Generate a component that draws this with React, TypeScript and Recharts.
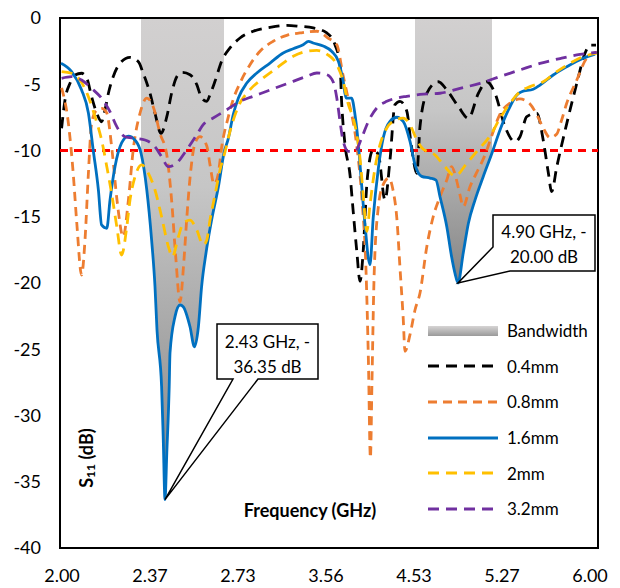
import React from 'react';
import {
  ComposedChart, Line, Area, XAxis, YAxis, ReferenceLine, ReferenceArea,
  ReferenceDot, Legend, Customized,
} from 'recharts';

// ---------- data ----------
const xTickPositions = [0, 22, 44, 66, 88, 110, 132];
const xTickLabels = ['2.00', '2.37', '2.73', '3.56', '4.53', '5.27', '6.00'];
const yTicks = [0, -5, -10, -15, -20, -25, -30, -35, -40];
const thresholdDb = -10;

// [x position (category index), S11 dB]
const s04mm = [
  [-0.1, -8.32], [0.75, -6.19], [2.0, -4.93], [3.25, -4.3], [4.9, -4.17], [6.2, -4.55], [7.4, -5.94],
  [8.7, -7.19], [9.9, -7.83], [10.75, -6.94], [11.6, -5.68], [12.8, -4.43], [14.5, -3.42], [17.0, -2.97],
  [19.1, -3.3], [20.3, -4.17], [22.0, -5.68], [23.25, -7.19], [24.75, -8.7], [26.2, -7.45], [27.4, -5.68],
  [28.7, -4.43], [30.0, -4.11], [32.0, -4.28], [33.7, -5.03], [34.9, -6.04], [36.2, -6.29], [37.0, -5.79],
  [38.25, -4.78], [39.9, -3.27], [42.0, -2.26], [44.5, -1.51], [47.8, -1.0], [52.0, -0.7], [56.2, -0.55],
  [59.5, -0.63], [62.8, -0.75], [66.2, -1.13], [68.25, -2.02], [69.5, -3.52], [69.9, -6.29], [70.75, -9.56],
  [72.0, -11.83], [72.8, -14.59], [73.7, -17.61], [74.5, -19.87], [75.3, -17.61], [76.2, -12.58], [77.0, -10.57],
  [77.8, -9.94], [79.1, -10.32], [80.75, -13.74], [82.0, -10.72], [83.25, -6.54], [84.5, -6.29], [86.2, -7.04],
  [87.25, -9.43], [88.7, -11.72], [89.5, -8.2], [91.2, -5.68], [94.1, -4.81], [96.2, -5.43], [99.1, -6.69],
  [101.6, -7.57], [104.1, -5.68], [106.2, -4.81], [108.25, -5.68], [110.75, -8.2], [113.25, -9.34],
  [114.5, -8.96], [116.2, -7.45], [118.7, -7.19], [120.3, -9.21], [121.6, -11.72], [122.4, -13.11],
  [123.7, -11.22], [126.2, -7.95], [128.7, -4.93], [130.75, -2.66], [132.0, -2.04], [133.5, -2.04],
];

const s08mm = [
  [-0.1, -5.28], [1.6, -7.95], [2.8, -11.72], [3.7, -15.49], [4.9, -19.4], [5.75, -16.75], [6.6, -11.72],
  [7.4, -7.95], [8.7, -6.94], [9.9, -6.82], [11.2, -7.17], [12.5, -9.96], [13.75, -13.74], [15.3, -16.51],
  [16.6, -13.74], [17.8, -9.96], [19.5, -7.19], [21.2, -6.04], [22.8, -6.69], [24.5, -8.7], [26.2, -10.34],
  [27.4, -13.74], [28.4, -17.89], [29.5, -21.41], [30.4, -18.64], [31.2, -15.09], [32.0, -12.08],
  [33.25, -9.46], [34.5, -8.96], [36.2, -9.66], [37.0, -11.07], [38.0, -12.53], [39.0, -11.85], [40.0, -9.58],
  [41.5, -7.55], [42.75, -6.19], [44.5, -4.91], [47.0, -3.52], [49.5, -2.51], [52.8, -1.76], [56.2, -1.31],
  [59.5, -1.13], [63.7, -1.0], [66.5, -1.51], [68.7, -2.02], [70.25, -4.3], [71.5, -6.04], [73.5, -9.21],
  [75.0, -13.74], [76.0, -19.02], [76.6, -25.81], [77.1, -33.21], [77.5, -27.32], [78.0, -19.77],
  [79.0, -14.49], [80.25, -12.6], [81.75, -12.08], [82.75, -12.98], [83.7, -15.09], [84.5, -18.87],
  [85.3, -22.64], [85.75, -25.15], [87.0, -23.9], [88.25, -22.04], [89.5, -20.75], [91.2, -17.26],
  [92.8, -15.0], [94.5, -13.49], [96.2, -12.23], [97.4, -11.22], [98.5, -12.08], [99.5, -13.36],
  [100.3, -14.24], [102.0, -12.73], [103.75, -11.62], [105.75, -10.34], [107.5, -8.83], [109.5, -7.25],
  [112.0, -6.42], [114.5, -6.11], [117.0, -6.49], [118.75, -7.32], [120.3, -8.3], [122.0, -9.02],
  [123.7, -8.75], [124.75, -7.85], [126.2, -6.42], [128.7, -4.68], [131.2, -3.02], [133.7, -2.57],
];

const s16mm = [
  [-0.25, -3.42], [2.4, -4.05], [4.9, -5.43], [6.6, -7.17], [7.8, -9.96], [9.1, -12.98], [9.9, -15.62],
  [11.2, -15.87], [12.0, -13.74], [13.25, -11.22], [14.9, -9.43], [16.6, -8.91], [18.25, -9.21],
  [19.75, -10.19], [21.2, -12.98], [22.4, -16.75], [23.25, -20.28], [23.75, -23.55], [24.9, -27.83],
  [25.3, -31.6], [25.75, -36.35], [26.2, -32.83], [26.8, -27.83], [27.0, -25.28], [28.25, -22.54],
  [29.5, -21.66], [30.3, -21.79], [32.0, -23.3], [33.1, -24.81], [34.1, -23.3], [34.9, -20.28],
  [36.0, -17.74], [37.4, -15.25], [39.1, -12.73], [40.5, -10.19], [41.6, -9.06], [42.8, -7.3], [44.1, -6.04],
  [46.2, -4.91], [48.7, -4.15], [52.0, -3.4], [55.3, -2.64], [57.8, -2.32], [60.3, -2.02], [61.6, -1.76],
  [62.8, -1.89], [65.3, -2.11], [67.4, -2.51], [69.1, -3.27], [70.3, -4.78], [71.0, -6.04], [72.4, -6.04],
  [73.25, -7.3], [74.1, -9.56], [74.9, -12.58], [75.75, -15.6], [77.0, -18.62], [77.8, -15.09],
  [79.1, -11.32], [80.3, -9.06], [82.0, -7.8], [83.7, -7.49], [85.3, -7.8], [87.0, -9.31], [88.25, -11.07],
  [89.9, -11.95], [92.0, -12.08], [93.5, -12.23], [94.5, -13.49], [96.2, -15.75], [97.4, -18.02],
  [98.25, -19.27], [99.0, -20.0], [100.3, -17.76], [101.6, -15.49], [103.25, -13.74], [105.3, -11.98],
  [107.5, -10.19], [109.5, -8.45], [111.6, -6.94], [113.7, -5.81], [114.9, -5.56], [117.8, -5.38],
  [119.5, -5.06], [122.8, -4.3], [126.2, -3.68], [130.3, -3.04], [133.25, -2.72],
];

const s2mm = [
  [-0.1, -4.05], [2.4, -4.17], [4.5, -4.68], [6.6, -5.94], [8.25, -7.45], [9.9, -9.21], [11.2, -11.22],
  [12.4, -13.23], [13.7, -15.75], [14.9, -17.89], [16.2, -15.75], [17.0, -13.74], [18.25, -11.98],
  [19.9, -11.09], [21.6, -11.72], [23.25, -12.98], [24.9, -15.0], [26.6, -17.26], [27.6, -18.02],
  [29.1, -16.51], [30.3, -15.49], [32.0, -15.25], [33.7, -16.0], [35.3, -17.13], [36.2, -16.75],
  [37.0, -15.25], [38.25, -13.36], [39.5, -11.47], [40.75, -10.11], [42.0, -8.55], [44.1, -6.66],
  [47.0, -5.41], [50.3, -4.53], [53.7, -3.77], [57.8, -2.89], [61.2, -2.51], [63.7, -2.44], [66.2, -2.72],
  [68.7, -3.52], [70.3, -4.78], [71.6, -6.54], [72.8, -7.55], [73.7, -8.81], [74.5, -10.57], [75.3, -13.34],
  [76.2, -16.1], [77.0, -14.09], [78.25, -11.32], [79.5, -9.56], [81.2, -8.3], [82.8, -7.8], [85.3, -7.55],
  [87.0, -8.05], [88.5, -9.06], [90.0, -9.81], [93.25, -10.34], [95.75, -11.22], [98.25, -11.92],
  [101.2, -10.97], [104.0, -9.96], [107.0, -8.91], [109.5, -7.57], [112.0, -6.44], [114.5, -5.56],
  [117.0, -5.18], [120.3, -4.81], [123.7, -4.05], [127.0, -3.42], [130.3, -2.92], [133.7, -2.66],
];

const s32mm = [
  [-0.1, -4.55], [2.4, -4.43], [4.9, -4.68], [7.4, -5.31], [9.9, -6.06], [12.0, -7.07], [13.7, -8.2],
  [15.75, -8.96], [18.25, -9.08], [20.75, -9.21], [23.25, -9.71], [24.9, -10.47], [26.6, -11.22],
  [28.7, -10.94], [31.2, -9.94], [33.7, -8.81], [35.3, -8.05], [37.8, -7.55], [41.2, -6.92], [44.5, -6.29],
  [47.8, -5.91], [51.2, -5.53], [54.5, -5.15], [57.8, -4.78], [61.2, -4.4], [63.7, -4.15], [66.2, -4.28],
  [67.8, -4.83], [68.7, -6.04], [69.5, -7.8], [70.3, -9.31], [71.6, -10.06], [73.25, -10.06], [74.9, -9.06],
  [76.6, -7.8], [78.7, -6.79], [81.2, -6.29], [83.7, -6.04], [86.2, -5.91], [89.5, -5.77], [94.5, -5.68],
  [99.5, -5.31], [104.5, -4.93], [109.5, -4.42], [114.5, -3.92], [119.5, -3.43], [124.5, -3.06],
  [129.5, -2.75], [133.7, -2.6],
];

// bandwidth regions of the 1.6mm curve (x ranges)
const bandwidthRanges = [[19.75, 40.5], [88.25, 107.5]];
const calloutTexts = [['2.43 GHz, -', '36.35 dB'], ['4.90 GHz, -', '20.00 dB']];

// ---------- helpers / styling ----------
const FONT = "Lato, 'Open Sans', 'DejaVu Sans', sans-serif";
const toPts = (arr: number[][]) => arr.map(([x, y]) => ({ x, y }));

const blueData = toPts(s16mm);
const series = [
  { name: '0.4mm', data: toPts(s04mm), color: '#000000', dash: '11 7', width: 2.8 },
  { name: '0.8mm', data: toPts(s08mm), color: '#ED7D31', dash: '9 6', width: 2.8 },
  { name: '1.6mm', data: blueData, color: '#0070C0', dash: undefined, width: 2.8 },
  { name: '2mm', data: toPts(s2mm), color: '#FFC000', dash: '11 7', width: 2.8 },
  { name: '3.2mm', data: toPts(s32mm), color: '#7030A0', dash: '11 7', width: 2.8 },
];

const bandData = bandwidthRanges.map(([a, b]) => blueData.filter((p) => p.x >= a && p.x <= b));
const bandMins = bandData.map((pts) => pts.reduce((m, p) => (p.y < m.y ? p : m), pts[0]));

// callout geometry relative to anchor point (pixels)
const calloutLayouts = [
  {
    path: [[52, -175.6], [153, -175.6], [153, -120.6], [93, -120.6], [0, 0], [68, -120.6], [52, -120.6]],
    tx: 102.5, ty: [-158, -133.6],
  },
  {
    path: [[35, -68], [137, -68], [137, -12], [52, -12], [0, 0], [35, -36]],
    tx: 86, ty: [-51.3, -26.3],
  },
];

const makeCallout = (i: number) => (props: any) => {
  const { cx, cy } = props;
  if (cx == null || cy == null) return null;
  const L = calloutLayouts[i];
  const d = L.path.map(([dx, dy], k) => `${k === 0 ? 'M' : 'L'}${cx + dx},${cy + dy}`).join(' ') + ' Z';
  return (
    <g>
      <path d={d} fill="#FFFFFF" stroke="#000000" strokeWidth={1.5} strokeLinejoin="miter" />
      {calloutTexts[i].map((t, k) => (
        <text key={k} x={cx + L.tx} y={cy + L.ty[k]} textAnchor="middle" dominantBaseline="central"
          fontFamily={FONT} fontSize={17} fill="#000">{t}</text>
      ))}
    </g>
  );
};

const renderLegend = () => {
  const rowH = 35.6;
  const Row = ({ children, label }: any) => (
    <div style={{ display: 'flex', alignItems: 'center', height: rowH }}>
      <svg width={72} height={14} style={{ display: 'block' }}>{children}</svg>
      <span style={{ marginLeft: 7, whiteSpace: 'nowrap' }}>{label}</span>
    </div>
  );
  return (
    <div style={{ fontFamily: FONT, fontSize: 17, color: '#000', lineHeight: 1 }}>
      <Row label="Bandwidth">
        <defs>
          <linearGradient id="bwLegendGrad" x1="0" y1="0" x2="0" y2="1">
            <stop offset="0%" stopColor="#D6D4D4" />
            <stop offset="100%" stopColor="#9A9A9A" />
          </linearGradient>
        </defs>
        <rect x={0} y={2} width={70} height={10} fill="url(#bwLegendGrad)" />
      </Row>
      {series.map((s) => (
        <Row key={s.name} label={s.name}>
          <line x1={0} y1={7} x2={70} y2={7} stroke={s.color} strokeWidth={s.width} strokeDasharray={s.dash} />
        </Row>
      ))}
    </div>
  );
};

const AxisTitles = () => (
  <g fontFamily={FONT} fontWeight="bold" fill="#000">
    <text x={310} y={510} textAnchor="middle" dominantBaseline="central" fontSize={18}>Frequency (GHz)</text>
    <text transform="translate(86,458) rotate(-90)" textAnchor="middle" dominantBaseline="central" fontSize={18}>
      S<tspan fontSize={12} dy={4}>11</tspan><tspan dy={-4}> (dB)</tspan>
    </text>
  </g>
);

export default function App() {
  return (
    <div style={{ margin: '-8px 0 0 -8px', width: 612, height: 588 }}>
      <ComposedChart width={612} height={588} margin={{ top: 18, right: 14, bottom: 0, left: 8 }}>
        <defs>
          <linearGradient id="bwGrad" x1="0" y1="0" x2="0" y2="1">
            <stop offset="0%" stopColor="#D2D0D0" />
            <stop offset="35%" stopColor="#C6C6C6" />
            <stop offset="100%" stopColor="#858585" />
          </linearGradient>
        </defs>
        <XAxis dataKey="x" type="number" domain={[-0.5, 134]} allowDataOverflow ticks={xTickPositions}
          interval={0} tickFormatter={(v: number) => xTickLabels[xTickPositions.indexOf(v)] ?? ''}
          tickLine={false} axisLine={false} height={40} tickSize={6} tickMargin={15}
          tick={{ fontSize: 18, fill: '#000', fontFamily: FONT }} />
        <YAxis type="number" domain={[-40, 0]} allowDataOverflow ticks={yTicks} interval={0}
          tickLine={false} axisLine={false} width={52} tickSize={6} tickMargin={13}
          tick={{ fontSize: 18, fill: '#000', fontFamily: FONT }} />
        {bandData.map((pts, i) => (
          <Area key={`band${i}`} data={pts} dataKey="y" type="monotone" baseValue={0} stroke="none"
            fill="url(#bwGrad)" fillOpacity={1} isAnimationActive={false} dot={false} activeDot={false}
            legendType="none" />
        ))}
        <ReferenceLine y={thresholdDb} stroke="#FF0000" strokeWidth={2.8} strokeDasharray="8 6" />
        {series.map((s) => (
          <Line key={s.name} data={s.data} dataKey="y" name={s.name} type="monotone" stroke={s.color}
            strokeWidth={s.width} strokeDasharray={s.dash} dot={false} activeDot={false}
            isAnimationActive={false} />
        ))}
        <ReferenceArea x1={-0.5} x2={134} y1={-40} y2={0} fill="none" fillOpacity={0} stroke="#000"
          strokeWidth={2} ifOverflow="visible" />
        {bandMins.map((p, i) => (
          <ReferenceDot key={`c${i}`} x={p.x} y={p.y} r={1} ifOverflow="visible" shape={makeCallout(i)} />
        ))}
        <Customized component={AxisTitles} />
        <Legend content={renderLegend} layout="vertical" align="center" verticalAlign="middle"
          wrapperStyle={{ left: 428, top: 313, width: 170 }} />
      </ComposedChart>
    </div>
  );
}
